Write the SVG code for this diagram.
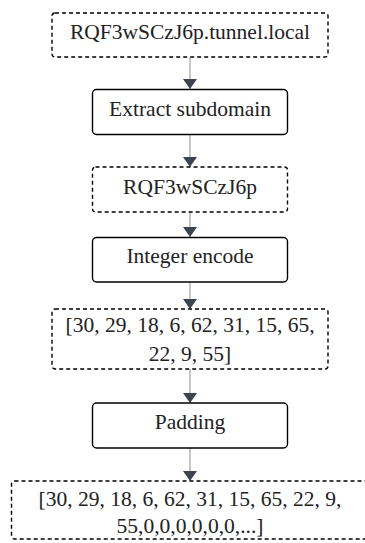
<svg xmlns="http://www.w3.org/2000/svg" width="365" height="543" viewBox="0 0 365 543">
<defs>
<style>
.box{fill:#fff;stroke:#000;stroke-width:1.4}
.dash{stroke-dasharray:4 3}
.t{font-family:"Liberation Serif","Times New Roman",serif;font-size:21.5px;fill:#222;text-anchor:middle}
.edge{stroke:#b5b5b5;stroke-width:1.5;fill:none}
</style>
<marker id="ah" viewBox="0 0 10 14" refX="10" refY="7" markerWidth="10" markerHeight="14" markerUnits="userSpaceOnUse" orient="auto">
<path d="M0,0 L10,7 L0,14 z" fill="#3d4450"/>
</marker>
</defs>
<rect width="365" height="543" fill="#fff"/>
<g id="connectors">
<line class="edge" x1="190" y1="57" x2="190" y2="89" marker-end="url(#ah)"/>
<line class="edge" x1="190" y1="134" x2="190" y2="167" marker-end="url(#ah)"/>
<line class="edge" x1="190" y1="212" x2="190" y2="237" marker-end="url(#ah)"/>
<line class="edge" x1="190" y1="282" x2="190" y2="309" marker-end="url(#ah)"/>
<line class="edge" x1="190" y1="369" x2="190" y2="403" marker-end="url(#ah)"/>
<line class="edge" x1="190" y1="448" x2="190" y2="481" marker-end="url(#ah)"/>
</g>
<g id="n1"><rect class="box dash" x="52" y="13" width="276" height="44" rx="3"/><text class="t" x="190" y="38.5">RQF3wSCzJ6p.tunnel.local</text></g>
<g id="n2"><rect class="box" x="92.5" y="89.5" width="195" height="45" rx="4"/><text class="t" x="190" y="116">Extract subdomain</text></g>
<g id="n3"><rect class="box dash" x="92.5" y="167" width="195" height="45" rx="3"/><text class="t" x="190" y="194.3">RQF3wSCzJ6p</text></g>
<g id="n4"><rect class="box" x="92.5" y="237.5" width="195" height="44.5" rx="4"/><text class="t" x="190" y="263.3">Integer encode</text></g>
<g id="n5"><rect class="box dash" x="52" y="309" width="276" height="60" rx="3"/><text class="t" x="190" y="331.7">[30, 29, 18, 6, 62, 31, 15, 65,</text><text class="t" x="190" y="360.5">22, 9, 55]</text></g>
<g id="n6"><rect class="box" x="92.5" y="403" width="195" height="45" rx="4"/><text class="t" x="190" y="429.3">Padding</text></g>
<g id="n7"><rect class="box dash" x="11.5" y="481" width="358" height="58" rx="3"/><text class="t" x="190" y="506.3">[30, 29, 18, 6, 62, 31, 15, 65, 22, 9,</text><text class="t" x="190" y="533">55,0,0,0,0,0,0,...]</text></g>
</svg>
